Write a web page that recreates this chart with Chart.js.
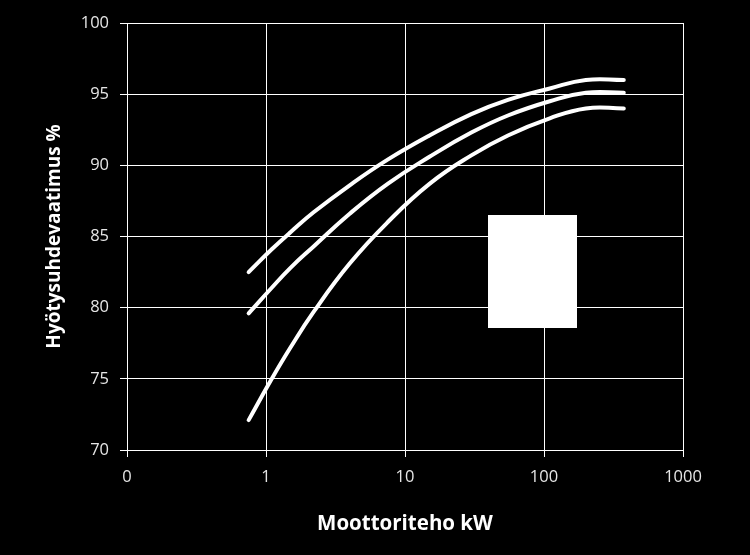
<!DOCTYPE html>
<html>
<head>
<meta charset="utf-8">
<script src="https://cdn.jsdelivr.net/npm/chart.js@4/dist/chart.umd.min.js"></script>
<style>
    html, body { margin: 0; padding: 0; background: #000; }
    #wrap { width: 750px; height: 555px; }
</style>
</head>
<body>
<div id="wrap"><canvas id="chart"></canvas></div>
<script>
// Motor power (kW) and efficiency requirement (%) per class
const powerKw = [0.75, 1.1, 1.5, 2.2, 4, 7.5, 15, 30, 55, 110, 200, 375];
const ie3 = [82.5, 84.1, 85.3, 86.7, 88.6, 90.4, 92.1, 93.6, 94.6, 95.4, 96.0, 96.0];
const ie2 = [79.6, 81.4, 82.8, 84.3, 86.6, 88.7, 90.6, 92.3, 93.5, 94.5, 95.1, 95.1];
const ie1 = [72.1, 75.0, 77.2, 79.7, 83.1, 86.0, 88.7, 90.7, 92.1, 93.3, 94.0, 94.0];
const xTicks = [0.1, 1, 10, 100, 1000];
const yTicks = [70, 75, 80, 85, 90, 95, 100];

const toPoints = (vals) => powerKw.map((x, i) => ({ x: x, y: vals[i] }));

const fontFamily = '"Open Sans", "DejaVu Sans", sans-serif';
const tickColor = '#e6e6e6';

// blank legend box (white rectangle inside the plot)
const legendBox = {
    id: 'legendBox',
    afterDatasetsDraw(chart) {
        const { ctx, chartArea } = chart;
        ctx.save();
        ctx.fillStyle = '#ffffff';
        ctx.fillRect(chartArea.left + 361, chartArea.top + 192, 89, 113);
        ctx.restore();
    }
};

const lineStyle = {
    borderColor: '#ffffff',
    borderWidth: 4,
    pointRadius: 0,
    fill: false,
    tension: 0.45,
    borderCapStyle: 'round'
};

new Chart(document.getElementById('chart'), {
    type: 'line',
    data: {
        datasets: [
            { label: 'IE3', data: toPoints(ie3), ...lineStyle },
            { label: 'IE2', data: toPoints(ie2), ...lineStyle },
            { label: 'IE1', data: toPoints(ie1), ...lineStyle }
        ]
    },
    plugins: [legendBox],
    options: {
        responsive: true,
        maintainAspectRatio: false,
        animation: false,
        layout: { padding: { top: 23, right: 67, left: 0, bottom: 0 } },
        plugins: {
            legend: { display: false },
            tooltip: { enabled: false }
        },
        scales: {
            x: {
                type: 'logarithmic',
                min: 0.1,
                max: 1000,
                afterBuildTicks: (scale) => { scale.ticks = xTicks.map(v => ({ value: v })); },
                afterFit: (scale) => { scale.height = 105; },
                grid: { color: '#ffffff', lineWidth: 1, tickLength: 7, drawTicks: true },
                border: { color: '#ffffff', width: 1 },
                ticks: {
                    color: tickColor,
                    padding: 10,
                    maxRotation: 0,
                    autoSkip: false,
                    font: { family: fontFamily, size: 16.5 },
                    callback: (v) => v === 0.1 ? '0' : String(v)
                },
                title: {
                    display: true,
                    text: 'Moottoriteho kW',
                    color: '#ffffff',
                    padding: { top: 0, bottom: 19 },
                    font: { family: fontFamily, size: 20.5, weight: 'bold' }
                }
            },
            y: {
                min: 70,
                max: 100,
                afterBuildTicks: (scale) => { scale.ticks = yTicks.map(v => ({ value: v })); },
                afterFit: (scale) => { scale.width = 127; },
                grid: { color: '#ffffff', lineWidth: 1, tickLength: 7, drawTicks: true },
                border: { color: '#ffffff', width: 1 },
                ticks: {
                    color: tickColor,
                    padding: 11,
                    font: { family: fontFamily, size: 16.5 }
                },
                title: {
                    display: true,
                    text: 'Hyötysuhdevaatimus %',
                    color: '#ffffff',
                    padding: { top: 43, bottom: 0 },
                    font: { family: fontFamily, size: 19, weight: 'bold' }
                }
            }
        }
    }
});
</script>
</body>
</html>
